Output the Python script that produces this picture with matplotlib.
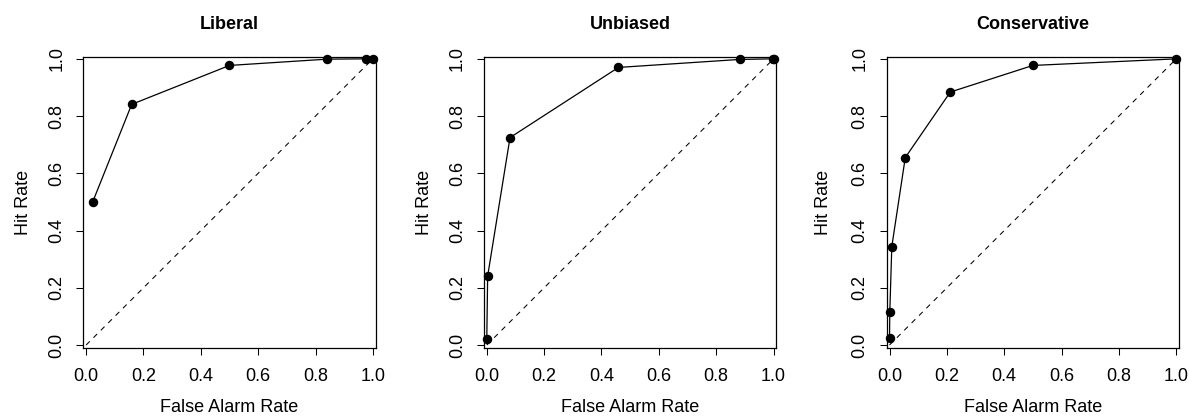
import matplotlib
matplotlib.use('Agg')
import matplotlib.pyplot as plt

plt.rcParams['font.family'] = ['Liberation Sans', 'DejaVu Sans']

titles = ['Liberal', 'Unbiased', 'Conservative']

# false alarm / hit rates
fa_liberal = [0.023, 0.159, 0.500, 0.841, 0.977, 0.999]
hit_liberal = [0.500, 0.841, 0.977, 0.999, 1.000, 1.000]

fa_unbiased = [0.000, 0.003, 0.081, 0.459, 0.882, 0.997, 1.000]
hit_unbiased = [0.021, 0.241, 0.725, 0.970, 0.998, 1.000, 1.000]

fa_conservative = [0.000, 0.001, 0.008, 0.055, 0.212, 0.500, 1.000]
hit_conservative = [0.023, 0.114, 0.344, 0.655, 0.884, 0.977, 1.000]

fa_all = [fa_liberal, fa_unbiased, fa_conservative]
hit_all = [hit_liberal, hit_unbiased, hit_conservative]

ticks = [0.0, 0.2, 0.4, 0.6, 0.8, 1.0]
tick_labels = ['0.0', '0.2', '0.4', '0.6', '0.8', '1.0']

fig = plt.figure(figsize=(11.89, 4.19), dpi=100)

lefts = [0.070, 0.407, 0.7457]
ylab_x = [-0.205, -0.203, -0.215]

for i in range(3):
    ax = fig.add_axes([lefts[i], 0.169, 0.246, 0.696])
    ax.plot([0, 1], [0, 1], color='black', lw=0.75, linestyle=(0, (5, 5)))
    ax.plot(fa_all[i], hit_all[i], color='black', lw=0.9, marker='o',
            markersize=5.8, clip_on=False)
    ax.set_xlim(-0.01, 1.01)
    ax.set_ylim(-0.011, 1.008)
    ax.set_xticks(ticks)
    ax.set_xticklabels(tick_labels)
    ax.set_yticks(ticks)
    ax.set_yticklabels(tick_labels, rotation=90, va='center')
    ax.tick_params(axis='both', direction='out', length=5, width=0.75,
                   labelsize=13)
    ax.tick_params(axis='x', pad=9)
    ax.tick_params(axis='y', pad=8)
    for s in ax.spines.values():
        s.set_linewidth(0.9)
    ax.set_title(titles[i], fontsize=13, fontweight='bold', pad=20)
    ax.set_xlabel('False Alarm Rate', fontsize=13, va='center')
    ax.xaxis.set_label_coords(0.5, -0.205)
    ax.set_ylabel('Hit Rate', fontsize=13, va='center')
    ax.yaxis.set_label_coords(ylab_x[i], 0.5)

fig.savefig('out.png', dpi=100)
